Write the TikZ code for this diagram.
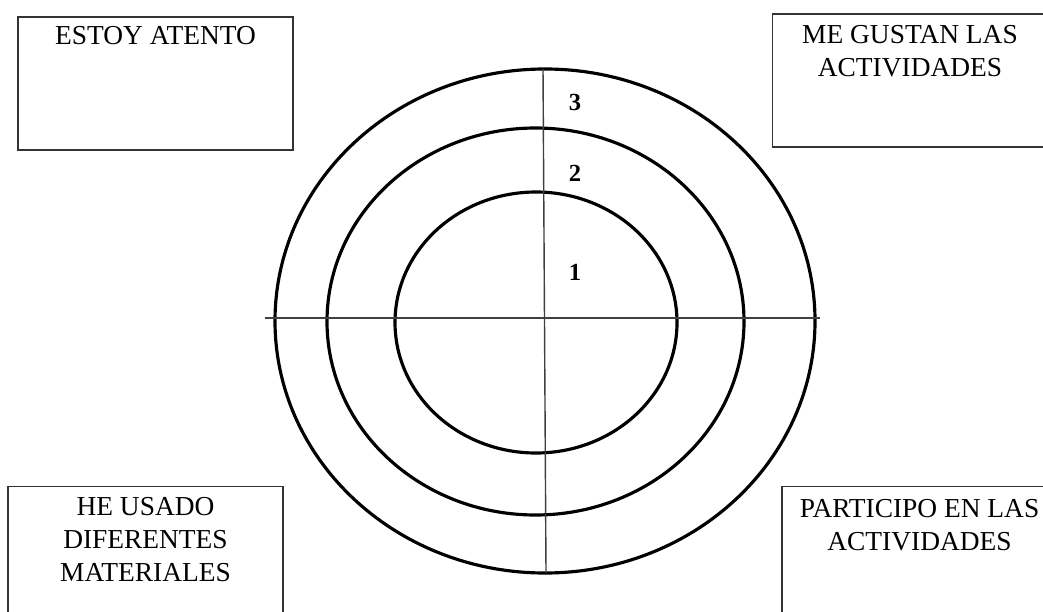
\documentclass[tikz,border=0pt]{standalone}
\usepackage{fontspec}
\setmainfont{Liberation Serif}
\usepackage{xcolor}
\usetikzlibrary{positioning}
\tikzset{
  box/.style  ={rectangle, draw=black!80, line width=0.8pt, inner sep=0pt,
                minimum width=5.5cm, minimum height=2.66cm},
  lbl/.style  ={align=center, inner sep=0pt,
                font=\fontsize{15.6}{18.7}\selectfont},
  ring/.style ={draw=black, line width=1.8pt},
  axis/.style ={draw=black!75, line width=0.8pt},
  num/.style  ={inner sep=0pt, font=\fontsize{14}{16}\selectfont\bfseries},
}
\begin{document}
\begin{tikzpicture}[x=0.02cm, y=-0.02cm]
  \useasboundingbox (0,0) rectangle (1043,611);

  % rings
  \draw[ring] (545,321) ellipse [x radius=270, y radius=252];
  \draw[ring] (535.5,321.5) ellipse [x radius=208.5, y radius=193.5];
  \draw[ring] (536,322.5) ellipse [x radius=141, y radius=130.5];

  % cross
  \coordinate (top) at (543,69);
  \coordinate (bot) at (546,573);
  \coordinate (lft) at (265,318);
  \coordinate (rgt) at (820,318);
  \draw[axis] (top) -- (bot);
  \draw[axis] (lft) -- (rgt);

  % levels
  \node[num] (n3) at (575,102) {3};
  \node[num] (n2) at (575,173) {2};
  \node[num] (n1) at (575,272) {1};

  % corner boxes
  \node[box] (atento) at (155.5,83.5) {};
  \node[lbl, below=0.2cm of atento.north] (atentoTxt) {ESTOY ATENTO};

  \node[box] (gustan) at (910,80.5) {};
  \node[lbl, below=0.24cm of gustan.north] (gustanTxt) {ME GUSTAN LAS\\ACTIVIDADES};

  \node[box] (usado) at (145.5,553) {};
  \node[lbl, below=0.22cm of usado.north] (usadoTxt) {HE USADO\\DIFERENTES\\MATERIALES};

  \node[box] (participo) at (919.5,553) {};
  \node[lbl, below=0.26cm of participo.north] (participoTxt) {PARTICIPO EN LAS\\ACTIVIDADES};
\end{tikzpicture}
\end{document}
